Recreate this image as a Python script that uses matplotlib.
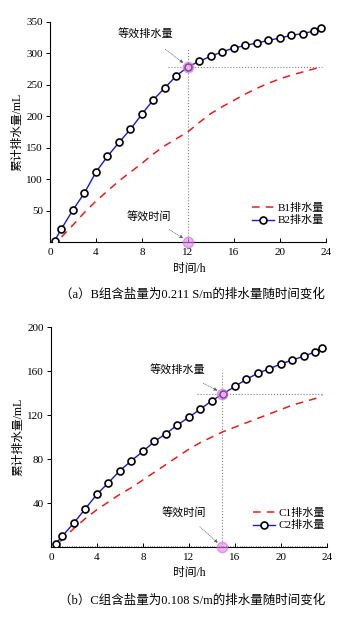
import matplotlib.pyplot as plt
from matplotlib.ticker import MultipleLocator, NullLocator

plt.rcParams['font.family'] = ['Liberation Serif', 'Noto Sans CJK SC']

# ---------------- data ----------------
# (a) B group
b2_t = [0.4, 1, 2, 3, 4, 5, 6, 7, 8, 9, 10, 11, 12, 13, 14, 15, 16, 17, 18, 19, 20, 21, 22, 23, 23.6]
b2_v = [2, 21, 51, 78, 111, 136, 158, 179, 203, 226, 245, 264, 278, 287, 295, 302, 308, 312,
        316, 320, 324, 328, 331, 335, 339]
b1_t = [1, 2, 3, 4, 5, 6, 7, 8, 9, 10, 11, 12, 13, 14, 15, 16, 17, 18, 19, 20, 21, 22, 23, 23.6]
b1_v = [8, 27, 47, 65, 81, 97, 111, 125, 140, 153, 164, 175, 190, 204, 215, 225, 235, 244,
        252, 259, 265, 270, 275, 278]
b_eq_t, b_eq_v = 12, 278

# (b) C group
c2_t = [0.4, 1, 2, 3, 4, 5, 6, 7, 8, 9, 10, 11, 12, 13, 14, 15, 16, 17, 18, 19, 20, 21, 22, 23, 23.6]
c2_v = [3, 10, 22, 35, 48, 58.5, 69.5, 78.5, 87, 96, 103, 111, 118, 125.5, 133, 139.5, 146,
        152.5, 158, 162, 166.5, 170, 173.5, 177.5, 181]
c1_t = [0.8, 2, 3, 4, 5, 6, 7, 8, 9, 10, 11, 12, 13, 14, 15, 16, 17, 18, 19, 20, 21, 22, 23, 23.6]
c1_v = [5, 17, 26, 34, 41, 48, 54, 61, 68, 75, 82, 89, 95, 100, 105, 109, 113, 117,
        121, 125, 129, 132, 135, 138]
c_eq_t, c_eq_v = 14.9, 139

panels = [
    dict(rect=[0.1377, 0.609, 0.760, 0.3562], ymax=350, ystep=50, xminor=None,
         t1=b1_t, v1=b1_v, t2=b2_t, v2=b2_v, eq_t=b_eq_t, eq_v=b_eq_v,
         h_from=10.3, v_top=307, names=['B1排水量', 'B2排水量'],
         txt1=(8.3, 330), arr1=(10.6, 308), txt2=(8.6, 40), arr2=(10.0, 22),
         caption='（a）B组含盐量为0.211 S/m的排水量随时间变化', cap_y=0.525, xl_y=0.565),
    dict(rect=[0.1405, 0.1163, 0.760, 0.3554], ymax=200, ystep=40, xminor=0.2,
         t1=c1_t, v1=c1_v, t2=c2_t, v2=c2_v, eq_t=c_eq_t, eq_v=c_eq_v,
         h_from=12.7, v_top=161, names=['C1排水量', 'C2排水量'],
         txt1=(11.0, 161), arr1=(12.9, 153), txt2=(11.6, 31), arr2=(12.7, 19),
         caption='（b）C组含盐量为0.108 S/m的排水量随时间变化', cap_y=0.030, xl_y=0.075),
]

fig = plt.figure(figsize=(3.63, 6.19), dpi=100)

for p in panels:
    ax = fig.add_axes(p['rect'])
    ax.plot(p['t1'], p['v1'], color='#e02020', linestyle=(0, (5, 4)), linewidth=1.1,
            label=p['names'][0], zorder=3)
    ax.plot(p['t2'], p['v2'], color='#1a1acc', linewidth=1.0, marker='o', markersize=5.0,
            markerfacecolor='white', markeredgecolor='black', markeredgewidth=1.2,
            label=p['names'][1], zorder=4)

    # equivalent lines
    ax.plot([p['h_from'], 23.7], [p['eq_v'], p['eq_v']], color='gray', linestyle=':', linewidth=0.8)
    ax.plot([p['eq_t'], p['eq_t']], [0, p['v_top']], color='gray', linestyle=':', linewidth=0.8)
    ax.plot([p['eq_t'], p['eq_t']], [p['eq_v'], 0], linestyle='none', marker='o', markersize=7.5,
            markerfacecolor='#e080ee', markeredgecolor='#d070e0', alpha=0.6, zorder=5,
            clip_on=False)

    ax.annotate('等效排水量', xy=(p['eq_t'] - 0.2, p['eq_v'] + p['ymax'] * 0.01),
                xytext=p['txt1'], fontsize=8, ha='center', va='center',
                arrowprops=dict(arrowstyle='-|>', color='#555555', lw=0.5, linestyle=':',
                                mutation_scale=5, shrinkA=8, shrinkB=2))
    ax.annotate('等效时间', xy=(p['eq_t'] - 0.2, p['ymax'] * 0.01),
                xytext=p['txt2'], fontsize=8, ha='center', va='center',
                arrowprops=dict(arrowstyle='-|>', color='#555555', lw=0.5, linestyle=':',
                                mutation_scale=5, shrinkA=6, shrinkB=2))

    ax.set_xlim(0, 24)
    ax.set_ylim(0, p['ymax'])
    ax.xaxis.set_major_locator(MultipleLocator(4))
    if p['xminor']:
        ax.xaxis.set_minor_locator(MultipleLocator(p['xminor']))
    else:
        ax.xaxis.set_minor_locator(NullLocator())
    ax.set_yticks(range(p['ystep'], p['ymax'] + 1, p['ystep']))
    ax.yaxis.set_minor_locator(NullLocator())
    ax.tick_params(axis='x', direction='in', length=3, width=0.7, labelsize=8, pad=4)
    ax.tick_params(axis='x', which='minor', direction='in', length=1.0, width=0.5)
    ax.tick_params(axis='y', direction='out', length=3, width=0.7, labelsize=8, pad=2)
    ax.spines['top'].set_visible(False)
    ax.spines['right'].set_visible(False)
    ax.spines['left'].set_linewidth(0.8)
    ax.spines['bottom'].set_linewidth(0.8)
    ax.set_ylabel('累计排水量/mL', fontsize=8.5, labelpad=2)

    ax.legend(loc='lower right', bbox_to_anchor=(1.02, 0.04), frameon=False, fontsize=8,
              handlelength=2.0, handletextpad=0.3, labelspacing=0.2, borderpad=0.2)

    fig.text(0.52, p['xl_y'], '时间/h', ha='center', va='center', fontsize=8.5)
    fig.text(0.53, p['cap_y'], p['caption'], ha='center', va='center', fontsize=9)

fig.savefig('out.png', dpi=100)
